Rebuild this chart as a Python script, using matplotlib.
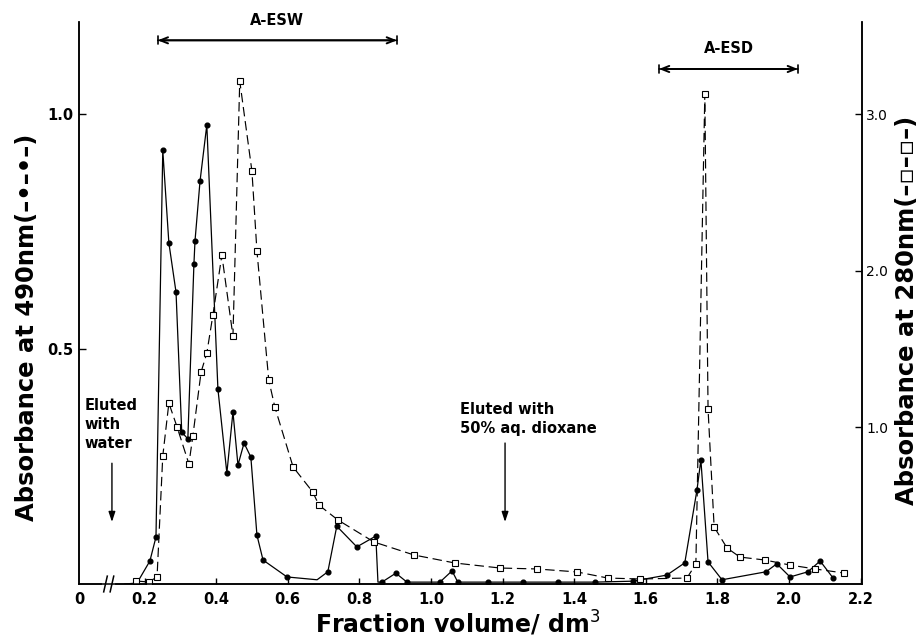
import matplotlib
matplotlib.use("Agg")
import matplotlib.pyplot as plt

# fraction volume (dm3) vs absorbance at 490 nm (filled circles, left axis)
vol_490 = [0.145, 0.179, 0.215, 0.232, 0.251, 0.268, 0.288, 0.304, 0.321, 0.338,
           0.341, 0.355, 0.374, 0.405, 0.430, 0.447, 0.461, 0.478, 0.497, 0.514,
           0.531, 0.598, 0.682, 0.712, 0.737, 0.793, 0.846, 0.852, 0.863, 0.902,
           0.933, 1.025, 1.059, 1.075, 1.159, 1.257, 1.355, 1.458, 1.564, 1.659,
           1.709, 1.743, 1.754, 1.774, 1.813, 1.936, 1.966, 2.003, 2.053, 2.087,
           2.123]
abs_490 = [0.0, 0.002, 0.049, 0.100, 0.923, 0.726, 0.621, 0.323, 0.309, 0.681,
           0.730, 0.857, 0.977, 0.415, 0.236, 0.366, 0.253, 0.300, 0.270, 0.104,
           0.051, 0.015, 0.009, 0.026, 0.123, 0.079, 0.102, 0.004, 0.004, 0.023,
           0.004, 0.004, 0.028, 0.004, 0.004, 0.004, 0.004, 0.004, 0.006, 0.019,
           0.045, 0.200, 0.264, 0.047, 0.009, 0.026, 0.043, 0.015, 0.026, 0.049,
           0.013]
# vertices of the 490 nm trace that carry no dot
no_dot_490 = [0, 1, 22, 27]

# fraction volume (dm3) vs absorbance at 280 nm (open squares, right axis)
vol_280 = [0.176, 0.212, 0.235, 0.251, 0.268, 0.291, 0.324, 0.335, 0.358, 0.374,
           0.391, 0.416, 0.447, 0.466, 0.500, 0.514, 0.547, 0.564, 0.615, 0.670,
           0.687, 0.740, 0.841, 0.953, 1.067, 1.193, 1.296, 1.408, 1.494, 1.584,
           1.715, 1.740, 1.765, 1.774, 1.791, 1.827, 1.863, 1.933, 2.003, 2.073,
           2.154]
abs_280 = [0.019, 0.013, 0.045, 0.817, 1.155, 1.002, 0.766, 0.945, 1.353, 1.474,
           1.717, 2.100, 1.583, 3.211, 2.636, 2.126, 1.302, 1.130, 0.747, 0.587,
           0.504, 0.409, 0.268, 0.185, 0.134, 0.102, 0.096, 0.077, 0.038, 0.032,
           0.038, 0.128, 3.128, 1.117, 0.364, 0.230, 0.172, 0.153, 0.121, 0.096,
           0.070]

x_ticks = [0.2, 0.4, 0.6, 0.8, 1.0, 1.2, 1.4, 1.6, 1.8, 2.0, 2.2]
left_ticks = [0.5, 1.0]
right_ticks = [1.0, 2.0, 3.0]

XMIN, XMAX = 0.017, 2.204
YMAX = 1.196
BREAK_X = 0.1

esw_range = (0.237, 0.905)
esd_range = (1.637, 2.025)
water_x = 0.109
dioxane_x = 1.207

plt.rcParams['font.family'] = ['DejaVu Sans']
bold = dict(fontweight='bold', fontsize=10.5)

fig = plt.figure(figsize=(9.19, 6.37), dpi=100)
ax = fig.add_axes([79 / 919, 53 / 637, 783 / 919, 562 / 637])
ax2 = ax.twinx()

dot_idx = [i for i in range(len(vol_490)) if i not in no_dot_490]
ax.plot(vol_490, abs_490, color='black', lw=0.9, marker='o', ms=3.4,
        markevery=dot_idx, zorder=3)
ax2.plot(vol_280, abs_280, color='black', lw=0.85, dashes=(8, 4), marker='s',
         ms=4.6, mfc='white', mec='black', mew=0.8)

ax.set_xlim(XMIN, XMAX)
ax.set_ylim(0, YMAX)
ax2.set_ylim(0, 3 * YMAX)

for a in (ax, ax2):
    a.spines['top'].set_visible(False)
    for s in a.spines.values():
        s.set_linewidth(1.1)

ax.set_xticks([XMIN] + x_ticks)
ax.set_xticklabels(['0'] + [f'{v:.1f}' for v in x_ticks], **bold)
ax.set_yticks(left_ticks)
ax.set_yticklabels([f'{v:.1f}' for v in left_ticks], **bold)
ax2.set_yticks(right_ticks)
ax2.set_yticklabels([f'{v:.1f}' for v in right_ticks], fontsize=10)
ax.tick_params(axis='both', direction='in', length=5, width=1, pad=4)
ax.tick_params(axis='x', length=4, pad=6)
ax2.tick_params(axis='y', direction='in', length=5, width=1, pad=3)
ax.xaxis.get_ticklines()[0].set_visible(False)

ax.set_xlabel('Fraction volume/ dm$^3$', fontsize=17, fontweight='bold',
              va='center')
ax.xaxis.set_label_coords(0.484, -0.071)
ax.set_ylabel('Absorbance at 490nm(–•–•–)', fontsize=17.5, fontweight='bold',
              va='center')
ax.yaxis.set_label_coords(-0.066, 0.456)
ax2.set_ylabel('Absorbance at 280nm(–▫–▫–)', fontsize=17.5, fontweight='bold',
               va='center', rotation=90)
ax2.yaxis.set_label_coords(1.0575, 0.486)

# axis break on the x axis
tr = ax.get_xaxis_transform()
ax.plot([BREAK_X - 0.012, BREAK_X + 0.012], [0, 0], color='white', lw=3,
        transform=tr, clip_on=False, zorder=5)
for dx in (-0.009, 0.009):
    ax.plot([BREAK_X + dx - 0.005, BREAK_X + dx + 0.005], [-0.014, 0.014],
            color='black', lw=1.1, transform=tr, clip_on=False, zorder=6)

# fraction ranges
for (x0, x1), y, name, ty in ((esw_range, 1.157, 'A-ESW', 1.200),
                              (esd_range, 1.096, 'A-ESD', 1.140)):
    ax.annotate('', xy=(x1, y), xytext=(x0, y),
                arrowprops=dict(arrowstyle='<->,head_length=0.55,head_width=0.22',
                                lw=1.4, color='black', shrinkA=0, shrinkB=0),
                annotation_clip=False)
    ax.annotate('', xy=(x1, y), xytext=(x0, y),
                arrowprops=dict(arrowstyle='|-|,widthA=0.3,widthB=0.3',
                                lw=1.2, color='black', shrinkA=0, shrinkB=0),
                annotation_clip=False)
    ax.text((x0 + x1) / 2, ty, name, ha='center', va='center', **bold)

# elution markers
ax.text(0.033, 0.34, 'Eluted\nwith\nwater', ha='left', va='center',
        linespacing=1.33, **bold)
ax.annotate('', xy=(water_x, 0.132), xytext=(water_x, 0.257),
            arrowprops=dict(arrowstyle='-|>,head_length=0.6,head_width=0.2',
                            lw=1.0, color='black', fc='black', shrinkA=0, shrinkB=0))
ax.text(1.081, 0.351, 'Eluted with\n50% aq. dioxane', ha='left', va='center',
        linespacing=1.39, **bold)
ax.annotate('', xy=(dioxane_x, 0.132), xytext=(dioxane_x, 0.300),
            arrowprops=dict(arrowstyle='-|>,head_length=0.6,head_width=0.2',
                            lw=1.0, color='black', fc='black', shrinkA=0, shrinkB=0))

fig.savefig('out.png', dpi=100)
